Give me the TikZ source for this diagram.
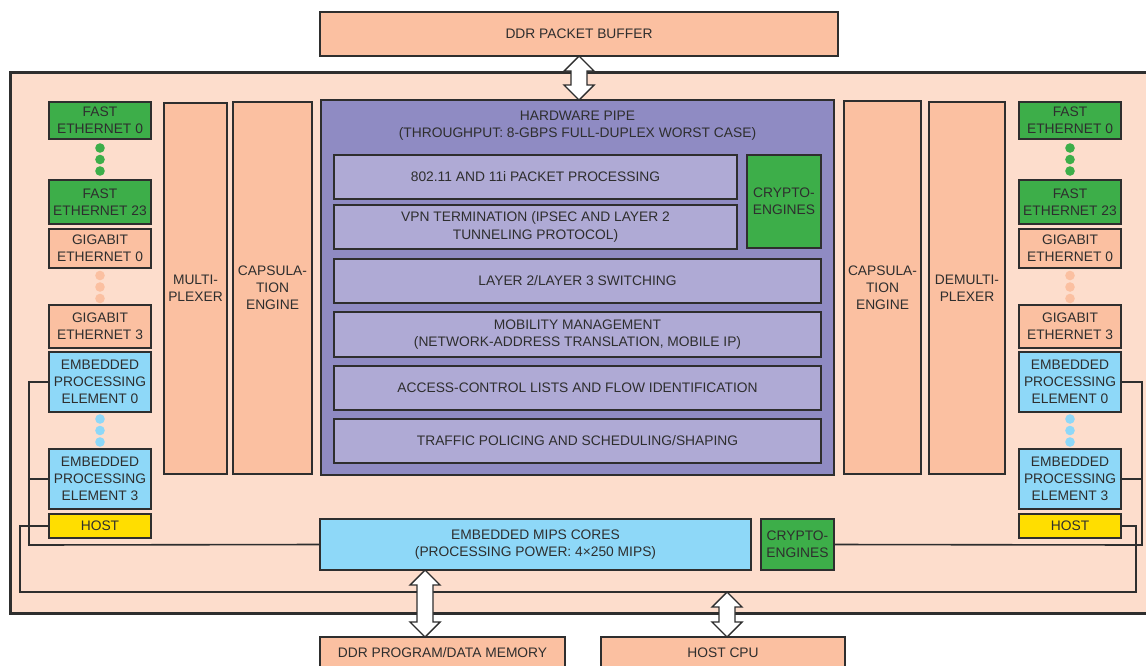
\documentclass[tikz,border=0pt]{standalone}
\usepackage{fontspec}
\setmainfont{Liberation Sans}
\usetikzlibrary{calc}
\definecolor{bgpeach}{HTML}{FDDDCC}
\definecolor{peachbox}{HTML}{FBC0A1}
\definecolor{pipepurple}{HTML}{8F8BC3}
\definecolor{lavender}{HTML}{AFAAD5}
\definecolor{gbox}{HTML}{3DAE49}
\definecolor{bbox}{HTML}{8ED8F8}
\definecolor{ybox}{HTML}{FFDE00}
\definecolor{linec}{HTML}{2E2E2E}
\definecolor{textc}{HTML}{2E2E2E}
\newcommand\mkbox[7]{\node[#1, minimum width={(#5-#3)*1pt}, minimum height={(#6-#4)*1pt}] (#2) at ({(#3+#5)/2},{(#4+#6)/2}) {#7};}
\newcommand\dblarr[2]{\draw[blockarr] (#1) -- ++(15,15) -- ++(-7,0) -- ($(#2)+(8,-15)$) -- ++(7,0) -- (#2) -- ++(-15,-15) -- ++(7,0) -- ($(#1)+(-8,15)$) -- ++(-7,0) -- cycle;}
\begin{document}
\begin{tikzpicture}[x=1pt,y=-1pt,
  bx/.style={draw=linec, line width=1.5pt, inner sep=0pt, outer sep=0pt, align=center, text=textc, font=\fontsize{13.8}{17.2}\selectfont},
  peach/.style={bx, fill=peachbox},
  purp/.style={bx, fill=pipepurple},
  lav/.style={bx, fill=lavender},
  grn/.style={bx, fill=gbox},
  blu/.style={bx, fill=bbox},
  yel/.style={bx, fill=ybox},
  conn/.style={draw=linec, line width=1.6pt},
  blockarr/.style={draw=linec, line width=1.4pt, fill=white, line join=miter},
  ttl/.style={inner sep=0pt, align=center, text=textc, font=\fontsize{13.8}{17.2}\selectfont}]
\path[use as bounding box] (0,0) rectangle (1146,665);
\fill[white] (0,0) rectangle (1146,665);
\begin{scope}
\clip (0,0) rectangle (1146,665);
% outer board
\draw[fill=bgpeach, draw=linec, line width=3pt] (10,72) rectangle (1180,613);
% top memory
\mkbox{peach}{ddr}{320}{12}{838}{56}{DDR PACKET BUFFER}
% hardware pipe
\mkbox{purp}{hwpipe}{321}{100}{834}{475}{}
\node[ttl] (hwtitle) at (577.5,126) {HARDWARE PIPE\\(THROUGHPUT: 8-GBPS FULL-DUPLEX WORST CASE)};
\mkbox{lav}{p80211}{334}{155}{737}{199}{802.11 AND 11i PACKET PROCESSING}
\mkbox{lav}{vpn}{334}{205}{737}{249}{VPN TERMINATION (IPSEC AND LAYER 2\\TUNNELING PROTOCOL)}
\mkbox{grn}{cryptoA}{747}{155}{821}{248}{CRYPTO-\\ENGINES}
\mkbox{lav}{l23}{334}{259}{821}{303}{LAYER 2/LAYER 3 SWITCHING}
\mkbox{lav}{mob}{334}{312}{821}{357}{MOBILITY MANAGEMENT\\(NETWORK-ADDRESS TRANSLATION, MOBILE IP)}
\mkbox{lav}{acl}{334}{366}{821}{410}{ACCESS-CONTROL LISTS AND FLOW IDENTIFICATION}
\mkbox{lav}{traffic}{334}{419}{821}{463}{TRAFFIC POLICING AND SCHEDULING/SHAPING}
% mux / capsulation
\mkbox{peach}{mux}{164}{103}{227}{474}{MULTI-\\PLEXER}
\mkbox{peach}{lcap}{233}{102}{312}{474}{CAPSULA-\\TION\\ENGINE}
\mkbox{peach}{rcap}{844}{101}{921}{474}{CAPSULA-\\TION\\ENGINE}
\mkbox{peach}{demux}{929}{102}{1005}{474}{DEMULTI-\\PLEXER}
% left column
\mkbox{grn}{lfe0}{49}{102}{151}{139}{FAST\\ETHERNET 0}
\mkbox{grn}{lfe23}{49}{180}{151}{224}{FAST\\ETHERNET 23}
\mkbox{peach}{lge0}{49}{229}{151}{268}{GIGABIT\\ETHERNET 0}
\mkbox{peach}{lge3}{49}{305}{151}{348}{GIGABIT\\ETHERNET 3}
\mkbox{blu}{lepe0}{49}{352}{151}{412}{EMBEDDED\\PROCESSING\\ELEMENT 0}
\mkbox{blu}{lepe3}{49}{449}{151}{509}{EMBEDDED\\PROCESSING\\ELEMENT 3}
\mkbox{yel}{lhost}{49}{514}{151}{538}{HOST}
% right column
\mkbox{grn}{rfe0}{1019}{102}{1121}{139}{FAST\\ETHERNET 0}
\mkbox{grn}{rfe23}{1019}{180}{1121}{224}{FAST\\ETHERNET 23}
\mkbox{peach}{rge0}{1019}{229}{1121}{268}{GIGABIT\\ETHERNET 0}
\mkbox{peach}{rge3}{1019}{305}{1121}{348}{GIGABIT\\ETHERNET 3}
\mkbox{blu}{repe0}{1019}{352}{1121}{412}{EMBEDDED\\PROCESSING\\ELEMENT 0}
\mkbox{blu}{repe3}{1019}{449}{1121}{509}{EMBEDDED\\PROCESSING\\ELEMENT 3}
\mkbox{yel}{rhost}{1019}{514}{1121}{538}{HOST}
% dots
\foreach \cx in {100,1070}{
  \foreach \cy in {148,159.5,171} {\fill[gbox] (\cx,\cy) circle (4.8pt);}
  \foreach \cy in {275.5,287,298.5} {\fill[peachbox] (\cx,\cy) circle (4.8pt);}
  \foreach \cy in {419,430.5,442} {\fill[bbox] (\cx,\cy) circle (4.8pt);}
}
% bottom blocks
\mkbox{blu}{mips}{320}{519}{751}{570}{EMBEDDED MIPS CORES\\(PROCESSING POWER: 4×250 MIPS)}
\mkbox{grn}{cryptoB}{761}{519}{834}{570}{CRYPTO-\\ENGINES}
\mkbox{peach}{ddrprog}{320}{637}{565}{669}{DDR PROGRAM/DATA MEMORY}
\mkbox{peach}{hostcpu}{601}{637}{845}{669}{HOST CPU}
% connector helper coordinates
\coordinate (busL) at (20,592);
\coordinate (busR) at (1136,592);
\coordinate (lj) at (29,545);
\coordinate (rj) at (1142,545);
\coordinate (mx) at (425,0);
\coordinate (hx) at (727,0);
% connectors
\draw[conn] (lepe0.west) -| (lj) -- (mips.west);
\draw[conn] (lepe3.west) -- (lepe3.west -| lj);
\draw[conn] (repe0.east) -| (rj) -- (cryptoB.east);
\draw[conn] (repe3.east) -- (repe3.east -| rj);
\draw[conn] (lhost.west) -| (busL) -- (busR) |- (rhost.east);
% block arrows
\coordinate (a1t) at (ddr.south);
\coordinate (a1b) at (ddr.south |- hwpipe.north);
\dblarr{a1t}{a1b}
\coordinate (a2t) at (mips.south -| mx);
\coordinate (a2b) at (ddrprog.north -| mx);
\dblarr{a2t}{a2b}
\coordinate (a3t) at (busL -| hx);
\coordinate (a3b) at (hostcpu.north -| hx);
\dblarr{a3t}{a3b}
\end{scope}
\end{tikzpicture}
\end{document}
